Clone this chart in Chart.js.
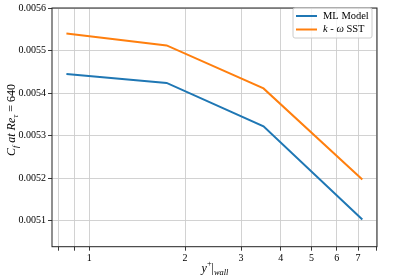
<!DOCTYPE html>
<html>
<head>
<meta charset="utf-8">
<script src="https://cdn.jsdelivr.net/npm/chart.js@4/dist/chart.umd.min.js"></script>
<style>
  html, body { margin: 0; padding: 0; background: #fff; }
  #wrap { width: 419px; height: 276px; }
</style>
</head>
<body>
<div id="wrap"><canvas id="chart"></canvas></div>
<script>
// y+ at the wall and skin friction values
const yPlus = [0.847, 1.75, 3.53, 7.22];
const mlModel = [0.005445, 0.005424, 0.005322, 0.005103];
const kOmegaSst = [0.00554, 0.005512, 0.005411, 0.005197];
const xTicks = [0.8, 0.9, 1, 2, 3, 4, 5, 6, 7, 8];
const xLabels = [1, 2, 3, 4, 5, 6, 7];
const yTicks = [0.0051, 0.0052, 0.0053, 0.0054, 0.0055, 0.0056];

const serif = '"Liberation Serif", "DejaVu Serif", serif';

// draws a run of text pieces, some raised or lowered
function drawRich(ctx, parts, x, y, size) {
    let w = 0;
    parts.forEach(p => {
        const s = p.pos ? size * 0.7 : size;
        ctx.font = (p.it ? 'italic ' : '') + s + 'px ' + serif;
        w += ctx.measureText(p.t).width;
    });
    let cx = x - w / 2;
    parts.forEach(p => {
        const s = p.pos ? size * 0.7 : size;
        ctx.font = (p.it ? 'italic ' : '') + s + 'px ' + serif;
        let dy = 0;
        if (p.pos === 'sub') dy = size * 0.3;
        if (p.pos === 'sup') dy = -size * 0.4;
        ctx.fillText(p.t, cx, y + dy);
        cx += ctx.measureText(p.t).width;
    });
}

const extras = {
    id: 'extras',
    afterDraw(chart) {
        const ctx = chart.ctx;
        const a = chart.chartArea;
        ctx.save();
        // frame
        ctx.strokeStyle = '#222';
        ctx.lineWidth = 1;
        ctx.strokeRect(a.left, a.top, a.right - a.left, a.bottom - a.top);

        // legend
        const lx = 293, ly = 8, lw = 79, lh = 30;
        ctx.fillStyle = 'rgba(255,255,255,0.8)';
        ctx.strokeStyle = '#cccccc';
        ctx.beginPath();
        ctx.roundRect(lx, ly, lw, lh, 2);
        ctx.fill();
        ctx.stroke();
        ctx.lineWidth = 2;
        ctx.strokeStyle = '#1f77b4';
        ctx.beginPath(); ctx.moveTo(296, 16); ctx.lineTo(317, 16); ctx.stroke();
        ctx.strokeStyle = '#ff7f0e';
        ctx.beginPath(); ctx.moveTo(296, 29.5); ctx.lineTo(317, 29.5); ctx.stroke();
        ctx.fillStyle = '#000';
        ctx.textBaseline = 'middle';
        ctx.textAlign = 'left';
        ctx.font = '10.5px ' + serif;
        ctx.fillText('ML Model', 323, 16);
        ctx.font = 'italic 10.5px ' + serif;
        ctx.fillText('k', 323, 29.5);
        let kx = 323 + ctx.measureText('k').width;
        ctx.font = '10.5px ' + serif;
        ctx.fillText(' - ', kx, 29.5);
        kx += ctx.measureText(' - ').width;
        ctx.font = 'italic 10.5px ' + serif;
        ctx.fillText('ω', kx, 29.5);
        kx += ctx.measureText('ω').width;
        ctx.font = '10.5px ' + serif;
        ctx.fillText(' SST', kx, 29.5);

        // axis titles
        ctx.textAlign = 'left';
        drawRich(ctx, [
            { t: 'y', it: true }, { t: '+', pos: 'sup' }, { t: '|' },
            { t: 'wall', it: true, pos: 'sub' }
        ], 215, 269, 12);

        ctx.translate(12, 120);
        ctx.rotate(-Math.PI / 2);
        drawRich(ctx, [
            { t: 'C', it: true }, { t: 'f', it: true, pos: 'sub' },
            { t: ' at ', it: true }, { t: 'Re', it: true }, { t: 'τ', it: true, pos: 'sub' },
            { t: ' = 640' }
        ], 0, 0, 12);
        ctx.restore();
    }
};

new Chart(document.getElementById('chart'), {
    type: 'line',
    data: {
        datasets: [{
            label: 'ML Model',
            data: yPlus.map((x, i) => ({ x: x, y: mlModel[i] })),
            borderColor: '#1f77b4',
            borderWidth: 2,
            pointRadius: 0,
            tension: 0
        }, {
            label: 'k - ω SST',
            data: yPlus.map((x, i) => ({ x: x, y: kOmegaSst[i] })),
            borderColor: '#ff7f0e',
            borderWidth: 2,
            pointRadius: 0,
            tension: 0
        }]
    },
    options: {
        responsive: true,
        maintainAspectRatio: false,
        animation: false,
        layout: { padding: { top: 4, right: 42, left: 0, bottom: 0 } },
        plugins: { legend: { display: false }, tooltip: { enabled: false } },
        scales: {
            x: {
                type: 'logarithmic',
                min: 0.763,
                max: 8.03,
                afterBuildTicks: s => { s.ticks = xTicks.map(v => ({ value: v })); },
                afterFit: s => { s.height = 29.3; },
                border: { display: false },
                grid: { color: '#cdcdcd', lineWidth: 0.9, tickLength: 4, tickColor: '#222' },
                ticks: {
                    autoSkip: false,
                    maxRotation: 0,
                    padding: 2,
                    color: '#000',
                    font: { family: serif, size: 10 },
                    callback: v => xLabels.includes(v) ? String(v) : ''
                }
            },
            y: {
                min: 0.005039,
                max: 0.0056,
                afterBuildTicks: s => { s.ticks = yTicks.map(v => ({ value: v })); },
                afterFit: s => { s.width = 52; },
                border: { display: false },
                grid: { color: '#cdcdcd', lineWidth: 0.9, tickLength: 4, tickColor: '#222' },
                ticks: {
                    padding: 2,
                    color: '#000',
                    font: { family: serif, size: 10 },
                    callback: v => v.toFixed(4)
                }
            }
        }
    },
    plugins: [extras]
});
</script>
</body>
</html>
